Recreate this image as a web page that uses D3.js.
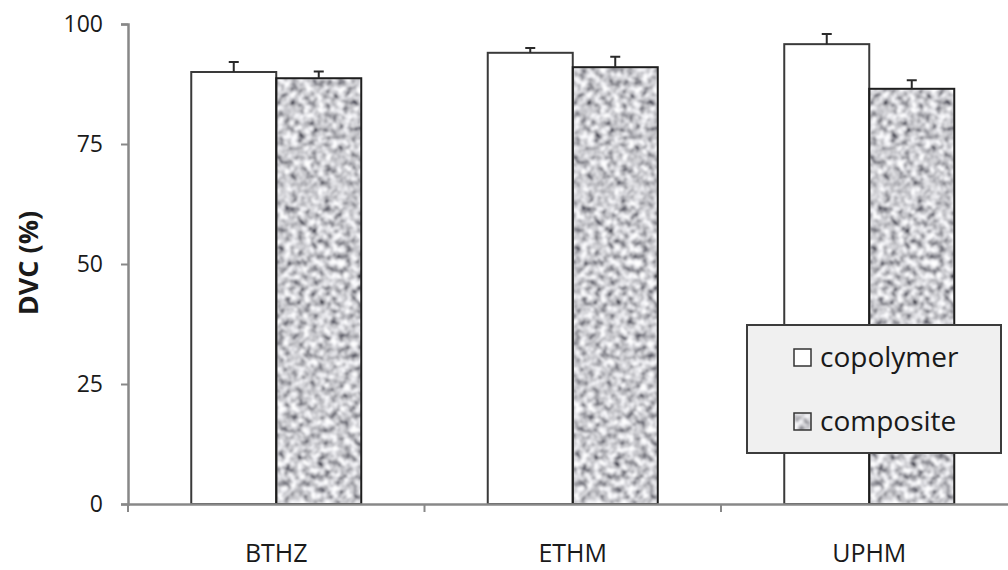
<!DOCTYPE html>
<html>
<head>
<meta charset="utf-8">
<script src="https://cdn.jsdelivr.net/npm/d3@7"></script>
<style>
  html, body { margin: 0; padding: 0; background: #fff; }
  svg { display: block; }
  text { font-family: "Open Sans", sans-serif; fill: #1a1a1a; }
</style>
</head>
<body>
<svg id="chart" width="1008" height="570"></svg>
<script>
const categories = ["BTHZ", "ETHM", "UPHM"];
const seriesNames = ["copolymer", "composite"];
const copolymerValues = [90.0, 94.0, 95.8];
const copolymerErrors = [2.1, 1.0, 2.1];
const compositeValues = [88.7, 91.0, 86.5];
const compositeErrors = [1.4, 2.2, 1.8];
const yTicks = [0, 25, 50, 75, 100];

const svg = d3.select("#chart");
const x0 = 128, yBase = 504, yTop = 24;
const bandW = 296.5;

const defs = svg.append("defs");
const filt = defs.append("filter").attr("id", "grain")
  .attr("x", 0).attr("y", 0).attr("width", 1).attr("height", 1)
  .attr("filterUnits", "objectBoundingBox");
filt.append("feTurbulence").attr("type", "fractalNoise")
  .attr("baseFrequency", "0.15").attr("numOctaves", 2).attr("seed", 7).attr("result", "noise");
filt.append("feColorMatrix").attr("in", "noise").attr("type", "matrix")
  .attr("values", "1.8 0 0 0 -0.3  1.8 0 0 0 -0.3  1.8 0 0 0 -0.27  0 0 0 0 1").attr("result", "gray");
filt.append("feGaussianBlur").attr("in", "gray").attr("stdDeviation", 0.8).attr("result", "soft");
filt.append("feComposite").attr("in", "soft").attr("in2", "SourceGraphic").attr("operator", "in");

const x = d3.scaleBand().domain(categories).range([x0, x0 + bandW * 3]).paddingInner(0).paddingOuter(0);
const xs = d3.scaleBand().domain(seriesNames).range([0, 170]);
const y = d3.scaleLinear().domain([0, 100]).range([yBase, yTop]);

const data = categories.map((c, i) => ({
  cat: c,
  vals: [
    { s: "copolymer", v: copolymerValues[i], e: copolymerErrors[i] },
    { s: "composite", v: compositeValues[i], e: compositeErrors[i] }
  ]
}));

const groups = svg.append("g").selectAll("g").data(data).join("g")
  .attr("transform", d => `translate(${x(d.cat) + (x.bandwidth() - 170) / 2},0)`);

groups.selectAll("rect.bar").data(d => d.vals).join("rect")
  .attr("class", "bar")
  .attr("x", d => xs(d.s))
  .attr("y", d => y(d.v))
  .attr("width", xs.bandwidth())
  .attr("height", d => yBase - y(d.v))
  .attr("fill", d => d.s === "copolymer" ? "#ffffff" : "#a0a0a0")
  .attr("filter", d => d.s === "composite" ? "url(#grain)" : null);

groups.selectAll("rect.outline").data(d => d.vals).join("rect")
  .attr("class", "outline")
  .attr("x", d => xs(d.s))
  .attr("y", d => y(d.v))
  .attr("width", xs.bandwidth())
  .attr("height", d => yBase - y(d.v))
  .attr("fill", "none")
  .attr("stroke", d => d.s === "copolymer" ? "#3a3a3a" : "#1e1e1e")
  .attr("stroke-width", 2);

groups.selectAll("path.err").data(d => d.vals).join("path")
  .attr("class", "err")
  .attr("d", d => {
    const cx = xs(d.s) + xs.bandwidth() / 2;
    return `M${cx},${y(d.v)}V${y(d.v + d.e)}M${cx - 5},${y(d.v + d.e)}H${cx + 5}`;
  })
  .attr("stroke", "#2a2a2a").attr("stroke-width", 2).attr("fill", "none");

const yAxis = d3.axisLeft(y).tickValues(yTicks).tickSize(7).tickPadding(18).tickFormat(d3.format("d"));
const gy = svg.append("g").attr("transform", `translate(${x0},0)`).call(yAxis);
gy.select(".domain").attr("stroke", "#888").attr("stroke-width", 2.5);
gy.selectAll(".tick line").attr("stroke", "#888").attr("stroke-width", 2);
gy.selectAll(".tick text").attr("font-size", 23).attr("fill", "#1a1a1a")
  .attr("font-family", "Open Sans, sans-serif");

const xAxis = d3.axisBottom(x).tickSize(0).tickFormat(() => "");
const gx = svg.append("g").attr("transform", `translate(0,${yBase})`).call(xAxis);
gx.select(".domain").attr("stroke", "#888").attr("stroke-width", 2.5);
gx.selectAll(".tick").remove();
const bounds = [x0, x0 + bandW, x0 + 2 * bandW];
svg.append("g").selectAll("line").data(bounds).join("line")
  .attr("x1", d => d).attr("x2", d => d)
  .attr("y1", yBase).attr("y2", yBase + 8)
  .attr("stroke", "#888").attr("stroke-width", 2);
svg.append("g").selectAll("text").data(categories).join("text")
  .attr("x", d => x(d) + x.bandwidth() / 2)
  .attr("y", 562)
  .attr("text-anchor", "middle")
  .attr("font-size", 25)
  .text(d => d);

svg.append("text")
  .attr("transform", "translate(38,263) rotate(-90)")
  .attr("text-anchor", "middle")
  .attr("font-size", 27)
  .attr("font-weight", "bold")
  .text("DVC (%)");

const lg = svg.append("g");
lg.append("rect").attr("x", 747).attr("y", 325).attr("width", 254).attr("height", 128)
  .attr("fill", "#f0f0f0").attr("stroke", "#3c3c3c").attr("stroke-width", 2);
const items = lg.selectAll("g.item").data(seriesNames).join("g").attr("class", "item")
  .attr("transform", (d, i) => `translate(794,${349 + i * 64})`);
items.append("rect").attr("width", 17).attr("height", 17)
  .attr("fill", d => d === "copolymer" ? "#ffffff" : "#a0a0a0")
  .attr("filter", d => d === "composite" ? "url(#grain)" : null);
items.append("rect").attr("width", 17).attr("height", 17)
  .attr("fill", "none").attr("stroke", "#333").attr("stroke-width", 1.5);
items.append("text").attr("x", 26).attr("y", 18).attr("font-size", 28).text(d => d);
</script>
</body>
</html>
